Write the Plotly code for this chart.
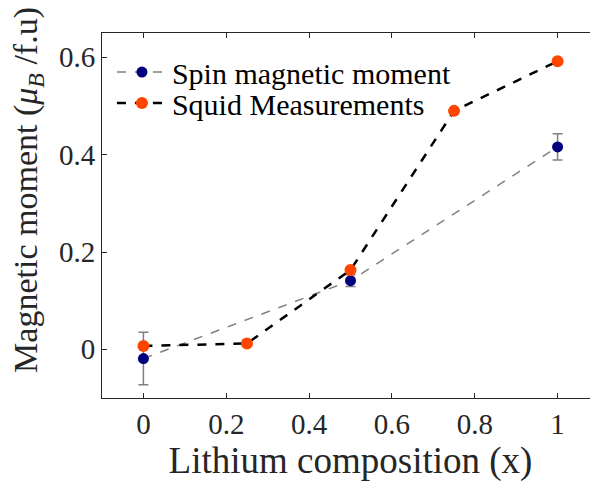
import plotly.graph_objects as go

# Data
spin_x = [0, 0.5, 1]
spin_y = [-0.019, 0.141, 0.416]
spin_err = [0.054, 0.012, 0.027]

squid_x = [0, 0.25, 0.5, 0.75, 1]
squid_y = [0.007, 0.012, 0.163, 0.490, 0.592]

x_ticks = [0, 0.2, 0.4, 0.6, 0.8, 1]
x_ticklabels = ["0", "0.2", "0.4", "0.6", "0.8", "1"]
y_ticks = [0, 0.2, 0.4, 0.6]
y_ticklabels = ["0", "0.2", "0.4", "0.6"]

FONT = "Liberation Serif"
AX = "#262626"

fig = go.Figure()
fig.add_trace(go.Scatter(
    x=spin_x, y=spin_y, mode="lines+markers",
    name="Spin magnetic moment", legend="legend",
    line=dict(color="#808080", width=1.5, dash="dash"),
    marker=dict(color="#00007F", size=11),
    error_y=dict(type="data", array=spin_err, visible=True,
                 color="#808080", thickness=1.5, width=5),
))
fig.add_trace(go.Scatter(
    x=squid_x, y=squid_y, mode="lines+markers",
    name="Squid Measurements", legend="legend2",
    line=dict(color="black", width=2.5, dash="dash"),
    marker=dict(color="#FF4500", size=12),
))

leg_common = dict(xanchor="left", yanchor="middle",
                  bgcolor="rgba(255,255,255,0)", borderwidth=0,
                  font=dict(family=FONT, size=30, color="black"),
                  itemwidth=50)

fig.update_layout(
    width=598, height=481,
    margin=dict(l=94, r=7, t=25, b=91, autoexpand=False),
    paper_bgcolor="white", plot_bgcolor="white",
    font=dict(family=FONT, color=AX),
    showlegend=True,
    legend=dict(x=0.02, y=0.893, **leg_common),
    legend2=dict(x=0.02, y=0.808, **leg_common),
)
fig.add_annotation(
    text="Magnetic moment (<i>μ</i><sub><i>B</i></sub> /f.u)",
    xref="paper", yref="paper", x=-0.149, y=0.570,
    xanchor="center", yanchor="middle", textangle=-90, showarrow=False,
    font=dict(family=FONT, size=34, color=AX),
)
fig.update_xaxes(
    range=[-0.1, 1.1], tickvals=x_ticks, ticktext=x_ticklabels,
    ticks="inside", ticklen=5, tickcolor=AX, tickwidth=1,
    showline=True, linecolor=AX, linewidth=1, mirror="ticks",
    showgrid=False, zeroline=False,
    tickfont=dict(family=FONT, size=29, color=AX),
    title=dict(text="Lithium composition (x)", font=dict(family=FONT, size=37, color=AX), standoff=4),
)
fig.update_yaxes(
    range=[-0.1, 0.65], tickvals=y_ticks, ticktext=y_ticklabels,
    ticks="inside", ticklen=5, tickcolor=AX, tickwidth=1,
    showline=True, linecolor=AX, linewidth=1, mirror="ticks",
    showgrid=False, zeroline=False,
    tickfont=dict(family=FONT, size=29, color=AX),
)

fig.write_html("out.html")
